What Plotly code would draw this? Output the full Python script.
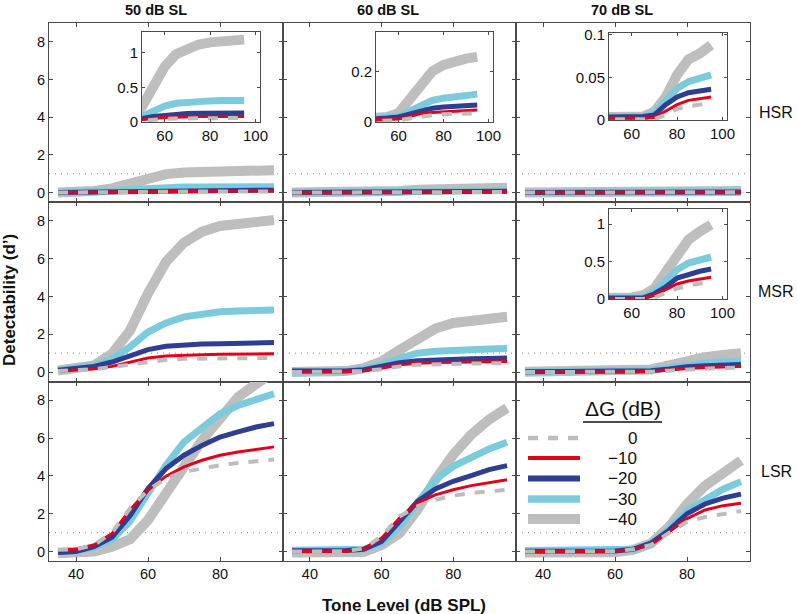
import plotly.graph_objects as go

# ---------------- data ----------------
tone_level = [35, 40, 45, 50, 55, 60, 65, 70, 75, 80, 85, 90, 95]
gain_labels = ["0", "\u221210", "\u221220", "\u221230", "\u221240"]
col_titles = ["50 dB SL", "60 dB SL", "70 dB SL"]
row_titles = ["HSR", "MSR", "LSR"]

# HSR
hsr50_g0 = [0.0, 0.0, 0.01, 0.02, 0.035, 0.045, 0.05, 0.053, 0.055, 0.056, 0.057, 0.058, 0.058]
hsr50_g10 = [0.0, 0.01, 0.02, 0.03, 0.05, 0.065, 0.072, 0.076, 0.078, 0.08, 0.08, 0.08, 0.08]
hsr50_g20 = [0.01, 0.02, 0.03, 0.05, 0.08, 0.1, 0.115, 0.122, 0.126, 0.128, 0.13, 0.13, 0.13]
hsr50_g30 = [0.02, 0.03, 0.05, 0.08, 0.16, 0.23, 0.27, 0.29, 0.3, 0.305, 0.31, 0.31, 0.31]
hsr50_g40 = [0.0, 0.02, 0.08, 0.22, 0.5, 0.8, 0.98, 1.07, 1.12, 1.15, 1.17, 1.18, 1.19]

hsr60_g0 = [0.0, 0.0, 0.002, 0.004, 0.005, 0.006, 0.014, 0.022, 0.027, 0.031, 0.032, 0.033, 0.034]
hsr60_g10 = [0.003, 0.005, 0.007, 0.01, 0.011, 0.012, 0.022, 0.033, 0.037, 0.04, 0.043, 0.045, 0.047]
hsr60_g20 = [0.005, 0.007, 0.01, 0.014, 0.016, 0.02, 0.033, 0.046, 0.054, 0.059, 0.063, 0.065, 0.067]
hsr60_g30 = [0.005, 0.007, 0.01, 0.015, 0.018, 0.022, 0.042, 0.064, 0.085, 0.094, 0.1, 0.105, 0.11]
hsr60_g40 = [0.005, 0.007, 0.01, 0.015, 0.02, 0.035, 0.088, 0.153, 0.2, 0.225, 0.24, 0.25, 0.257]

hsr70_g0 = [0.001, 0.001, 0.001, 0.001, 0.001, 0.001, 0.001, 0.001, 0.006, 0.013, 0.016, 0.018, 0.02]
hsr70_g10 = [0.002, 0.002, 0.002, 0.002, 0.002, 0.002, 0.002, 0.003, 0.011, 0.018, 0.023, 0.025, 0.027]
hsr70_g20 = [0.003, 0.003, 0.003, 0.003, 0.003, 0.003, 0.004, 0.006, 0.018, 0.027, 0.032, 0.034, 0.036]
hsr70_g30 = [0.003, 0.003, 0.003, 0.003, 0.003, 0.003, 0.004, 0.008, 0.024, 0.037, 0.045, 0.05, 0.053]
hsr70_g40 = [0.003, 0.003, 0.003, 0.003, 0.003, 0.003, 0.004, 0.01, 0.027, 0.053, 0.071, 0.078, 0.088]

# MSR
msr50_g0 = [0.05, 0.08, 0.15, 0.27, 0.4, 0.56, 0.65, 0.7, 0.71, 0.72, 0.73, 0.74, 0.75]
msr50_g10 = [0.04, 0.09, 0.18, 0.3, 0.53, 0.74, 0.85, 0.9, 0.92, 0.94, 0.95, 0.96, 0.97]
msr50_g20 = [0.09, 0.17, 0.3, 0.53, 0.88, 1.19, 1.36, 1.45, 1.48, 1.5, 1.53, 1.55, 1.56]
msr50_g30 = [0.09, 0.18, 0.35, 0.7, 1.33, 2.12, 2.6, 2.92, 3.1, 3.19, 3.23, 3.27, 3.28]
msr50_g40 = [0.08, 0.17, 0.35, 0.97, 2.2, 4.16, 5.84, 6.85, 7.43, 7.73, 7.88, 7.96, 8.05]

msr60_g0 = [0.0, 0.0, 0.0, 0.02, 0.05, 0.15, 0.3, 0.38, 0.42, 0.44, 0.45, 0.46, 0.47]
msr60_g10 = [0.0, 0.0, 0.01, 0.03, 0.07, 0.2, 0.38, 0.47, 0.5, 0.52, 0.54, 0.55, 0.56]
msr60_g20 = [0.05, 0.05, 0.05, 0.06, 0.12, 0.3, 0.5, 0.6, 0.65, 0.68, 0.7, 0.72, 0.74]
msr60_g30 = [0.03, 0.03, 0.04, 0.06, 0.15, 0.38, 0.73, 1.0, 1.1, 1.17, 1.2, 1.22, 1.24]
msr60_g40 = [0.0, 0.0, 0.01, 0.05, 0.2, 0.56, 1.17, 1.79, 2.3, 2.6, 2.72, 2.84, 2.93]

msr70_g0 = [0.0, 0.0, 0.0, 0.0, 0.0, 0.0, 0.0, 0.02, 0.075, 0.14, 0.18, 0.21, 0.23]
msr70_g10 = [0.0, 0.0, 0.0, 0.0, 0.0, 0.0, 0.005, 0.05, 0.12, 0.2, 0.24, 0.27, 0.29]
msr70_g20 = [0.01, 0.01, 0.01, 0.01, 0.01, 0.01, 0.015, 0.07, 0.16, 0.28, 0.33, 0.37, 0.4]
msr70_g30 = [0.01, 0.01, 0.01, 0.01, 0.01, 0.01, 0.02, 0.1, 0.23, 0.39, 0.48, 0.53, 0.56]
msr70_g40 = [0.01, 0.01, 0.01, 0.01, 0.01, 0.02, 0.05, 0.14, 0.36, 0.59, 0.79, 0.9, 0.99]

# LSR
lsr50_g0 = [0.09, 0.12, 0.35, 1.0, 2.28, 3.25, 3.87, 4.22, 4.39, 4.57, 4.69, 4.8, 4.87]
lsr50_g10 = [0.09, 0.12, 0.35, 0.95, 2.2, 3.25, 3.99, 4.48, 4.83, 5.1, 5.27, 5.41, 5.54]
lsr50_g20 = [-0.05, 0.0, 0.26, 0.75, 1.9, 3.34, 4.39, 5.1, 5.62, 6.06, 6.33, 6.59, 6.77]
lsr50_g30 = [0.0, 0.05, 0.24, 0.62, 1.6, 3.05, 4.57, 5.8, 6.59, 7.29, 7.73, 8.08, 8.35]
lsr50_g40 = [-0.09, -0.05, 0.0, 0.26, 0.65, 1.67, 2.99, 4.48, 5.89, 7.12, 8.17, 8.87, 9.5]

lsr60_g0 = [0.0, 0.0, 0.0, 0.02, 0.17, 0.8, 1.86, 2.39, 2.74, 2.96, 3.1, 3.19, 3.27]
lsr60_g10 = [0.0, 0.0, 0.0, 0.02, 0.15, 0.71, 1.77, 2.57, 3.0, 3.27, 3.49, 3.66, 3.8]
lsr60_g20 = [0.04, 0.04, 0.04, 0.05, 0.12, 0.53, 1.59, 2.65, 3.31, 3.72, 4.02, 4.34, 4.55]
lsr60_g30 = [0.07, 0.07, 0.07, 0.07, 0.12, 0.44, 1.33, 2.57, 3.8, 4.51, 5.0, 5.43, 5.79]
lsr60_g40 = [-0.05, -0.05, -0.05, -0.05, -0.02, 0.35, 0.97, 2.2, 3.8, 5.13, 6.19, 6.99, 7.6]

lsr70_g0 = [0.0, 0.0, 0.0, 0.0, 0.0, 0.02, 0.12, 0.35, 0.99, 1.57, 1.83, 2.0, 2.14]
lsr70_g10 = [0.0, 0.0, 0.0, 0.0, 0.0, 0.02, 0.12, 0.35, 1.04, 1.74, 2.2, 2.43, 2.56]
lsr70_g20 = [0.02, 0.02, 0.02, 0.02, 0.02, 0.03, 0.12, 0.45, 1.13, 2.0, 2.52, 2.83, 3.04]
lsr70_g30 = [0.05, 0.05, 0.05, 0.05, 0.05, 0.05, 0.12, 0.4, 1.17, 2.17, 2.78, 3.3, 3.7]
lsr70_g40 = [-0.05, -0.05, -0.05, -0.05, -0.05, -0.04, 0.09, 0.43, 1.3, 2.52, 3.48, 4.17, 4.82]

panels = [
    [hsr50_g0, hsr50_g10, hsr50_g20, hsr50_g30, hsr50_g40],
    [hsr60_g0, hsr60_g10, hsr60_g20, hsr60_g30, hsr60_g40],
    [hsr70_g0, hsr70_g10, hsr70_g20, hsr70_g30, hsr70_g40],
    [msr50_g0, msr50_g10, msr50_g20, msr50_g30, msr50_g40],
    [msr60_g0, msr60_g10, msr60_g20, msr60_g30, msr60_g40],
    [msr70_g0, msr70_g10, msr70_g20, msr70_g30, msr70_g40],
    [lsr50_g0, lsr50_g10, lsr50_g20, lsr50_g30, lsr50_g40],
    [lsr60_g0, lsr60_g10, lsr60_g20, lsr60_g30, lsr60_g40],
    [lsr70_g0, lsr70_g10, lsr70_g20, lsr70_g30, lsr70_g40],
]

# styles per gain (0, -10, -20, -30, -40)
colors = ["#bdbdbd", "#e2001a", "#2f3e91", "#7ccbdd", "#bebebe"]
widths = [4, 3, 5, 7, 10]
dashes = ["10px,10px", "solid", "solid", "solid", "solid"]
legend_widths = [4.5, 4, 6, 7.5, 10]

# ---------------- layout geometry ----------------
W, H = 798, 614
ML, MR, MT, MB = 49, 48, 23, 53
PW = W - ML - MR
PH = H - MT - MB


def px(x):
    return (x - ML) / PW


def py(y):
    return (H - MB - y) / PH


def xref(i):
    return "x" if i == 1 else f"x{i}"


def yref(i):
    return "y" if i == 1 else f"y{i}"


col_px = [(49, 283), (283, 516), (516, 750)]
row_px = [(23, 202), (202, 381.5), (381.5, 561)]

FONT = "Liberation Sans, Arial, Helvetica, sans-serif"
AX_COL = "#4a4a4a"
TXT = "#111"

fig = go.Figure()
layout = dict(
    width=W, height=H,
    margin=dict(l=ML, r=MR, t=MT, b=MB, pad=0),
    paper_bgcolor="white", plot_bgcolor="white",
    showlegend=False,
    font=dict(family=FONT, size=14, color=TXT),
)
shapes = []
annotations = []


def add_series(ax_id, data):
    for k in [4, 3, 2, 1, 0]:
        fig.add_trace(go.Scatter(
            x=tone_level, y=data[k], mode="lines",
            line=dict(color=colors[k], width=widths[k], dash=dashes[k]),
            xaxis=xref(ax_id), yaxis=yref(ax_id), hoverinfo="skip",
        ))


# main panels
for r in range(3):
    for c in range(3):
        i = r * 3 + c + 1
        xd = [px(col_px[c][0]), px(col_px[c][1])]
        yd = [py(row_px[r][1]), py(row_px[r][0])]
        layout["xaxis" if i == 1 else f"xaxis{i}"] = dict(
            domain=xd, anchor=yref(i), range=[32.5, 97.5],
            tickvals=[40, 60, 80], ticks="inside", ticklen=4, tickcolor=AX_COL,
            mirror="ticks", showline=True, linecolor=AX_COL, linewidth=1,
            showgrid=False, zeroline=False, showticklabels=(r == 2),
            tickfont=dict(size=14.5, color=TXT),
        )
        layout["yaxis" if i == 1 else f"yaxis{i}"] = dict(
            domain=yd, anchor=xref(i), range=[-0.5, 9],
            tickvals=[0, 2, 4, 6, 8], ticks="inside", ticklen=4, tickcolor=AX_COL,
            mirror="ticks", showline=True, linecolor=AX_COL, linewidth=1,
            showgrid=False, zeroline=False, showticklabels=(c == 0),
            tickfont=dict(size=14.5, color=TXT),
        )
        shapes.append(dict(
            type="line", xref=f"{xref(i)} domain", x0=0, x1=1, yref=yref(i), y0=1, y1=1,
            line=dict(color="#888", width=1, dash="1px,5px"), layer="below",
        ))
        add_series(i, panels[i - 1])

# insets: (panel index, pixel box, y range, tick vals, tick text)
insets = [
    (1, (142, 260, 32, 122), [0, 1.3], [0, 0.5, 1], ["0", "0.5", "1"]),
    (2, (376, 493, 32, 122), [0, 0.355], [0, 0.2], ["0", "0.2"]),
    (3, (609, 727, 33, 120), [0, 0.102], [0, 0.05, 0.1], ["0", "0.05", "0.1"]),
    (6, (609, 727, 209, 299), [0, 1.2], [0, 0.5, 1], ["0", "0.5", "1"]),
]
for j, (pi, box, yr, tv, tt) in enumerate(insets):
    i = 10 + j
    x0, x1, y0, y1 = box
    layout[f"xaxis{i}"] = dict(
        domain=[px(x0), px(x1)], anchor=f"y{i}", range=[50, 102],
        tickvals=[60, 80, 100], ticks="inside", ticklen=3, tickcolor=AX_COL,
        mirror="ticks", showline=True, linecolor=AX_COL, linewidth=1,
        showgrid=False, zeroline=False, tickfont=dict(size=15, color=TXT),
    )
    layout[f"yaxis{i}"] = dict(
        domain=[py(y1), py(y0)], anchor=f"x{i}", range=yr,
        tickvals=tv, ticktext=tt, ticks="inside", ticklen=3, tickcolor=AX_COL,
        mirror="ticks", showline=True, linecolor=AX_COL, linewidth=1,
        showgrid=False, zeroline=False, tickfont=dict(size=15, color=TXT),
    )
    shapes.append(dict(
        type="rect", xref="paper", yref="paper",
        x0=px(x0), x1=px(x1), y0=py(y1), y1=py(y0),
        fillcolor="white", line=dict(width=0), layer="below",
    ))
    if yr[1] > 1:
        shapes.append(dict(
            type="line", xref=f"x{i} domain", x0=0, x1=1, yref=f"y{i}", y0=1, y1=1,
            line=dict(color="#888", width=1, dash="1px,5px"), layer="below",
        ))
    add_series(i, panels[pi - 1])

# column titles
title_cx = [156, 388, 622]
for c, t in enumerate(col_titles):
    annotations.append(dict(
        text=f"<b>{t}</b>", xref="paper", yref="paper",
        x=px(title_cx[c]), y=py(10),
        showarrow=False, font=dict(size=14.5, color=TXT),
        xanchor="center", yanchor="middle",
    ))
# row titles
for r, t in enumerate(row_titles):
    annotations.append(dict(
        text=t, xref="paper", yref="paper",
        x=px(776), y=py((row_px[r][0] + row_px[r][1]) / 2),
        showarrow=False, font=dict(size=16, color=TXT),
        xanchor="center", yanchor="middle",
    ))
# axis titles
annotations.append(dict(
    text="<b>Tone Level (dB SPL)</b>", xref="paper", yref="paper",
    x=px(404), y=py(605), showarrow=False, font=dict(size=17, color=TXT),
    xanchor="center", yanchor="middle",
))
annotations.append(dict(
    text="<b>Detectability (d\u2019)</b>", xref="paper", yref="paper",
    x=px(9), y=py(300), showarrow=False, font=dict(size=17, color=TXT),
    textangle=-90, xanchor="center", yanchor="middle",
))

# custom legend (inside LSR / 70 dB SL panel)
annotations.append(dict(
    text="\u0394G (dB)", xref="paper", yref="paper",
    x=px(622.5), y=py(408), showarrow=False,
    font=dict(size=21, color=TXT, family=FONT),
    xanchor="center", yanchor="middle",
))
shapes.append(dict(
    type="line", xref="paper", yref="paper",
    x0=px(583), x1=px(662), y0=py(422), y1=py(422),
    line=dict(color=TXT, width=1.5),
))
leg_rows = [438, 458, 478.5, 499, 519]
for k in range(5):
    shapes.append(dict(
        type="line", xref="paper", yref="paper",
        x0=px(528), x1=px(580), y0=py(leg_rows[k]), y1=py(leg_rows[k]),
        line=dict(color=colors[k], width=legend_widths[k], dash=dashes[k]),
    ))
    annotations.append(dict(
        text=gain_labels[k], xref="paper", yref="paper",
        x=px(639), y=py(leg_rows[k]), showarrow=False,
        font=dict(size=17, color=TXT), xanchor="right", yanchor="middle",
    ))

layout["shapes"] = shapes
layout["annotations"] = annotations
fig.update_layout(**layout)
fig.write_html(
    "out.html",
    config={"displayModeBar": False},
    post_script="document.body.style.margin='0';document.body.style.overflow='hidden';",
)
